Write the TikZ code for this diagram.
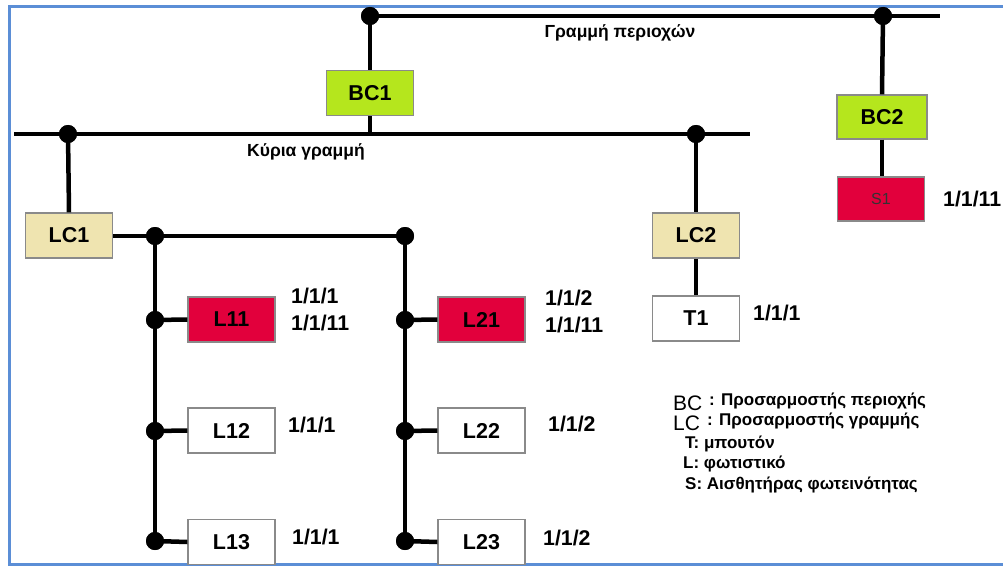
\documentclass[tikz,border=0pt]{standalone}
\usepackage{fontspec}
\setmainfont{Liberation Sans}
\definecolor{bcgreen}{HTML}{B5E61D}
\definecolor{lcbeige}{HTML}{EFE4B0}
\definecolor{lred}{HTML}{E2003C}
\definecolor{framebl}{HTML}{5B8ED6}
\definecolor{boxline}{HTML}{8A8A8A}
\begin{document}
\begin{tikzpicture}[x=1pt,y=-1pt,
  bus/.style={line width=4.5pt,black},
  dot/.style={circle,fill=black,inner sep=0pt,minimum size=18pt},
  dev/.style={draw=boxline,line width=1.2pt,minimum width=87pt,minimum height=45pt,inner sep=0pt,font=\fontsize{21.5}{24}\selectfont\bfseries},
  bcbox/.style={dev,fill=bcgreen},
  lcbox/.style={dev,fill=lcbeige},
  redbox/.style={dev,fill=lred},
  whitebox/.style={dev,fill=white},
  addr/.style={anchor=west,inner sep=0pt,font=\fontsize{21.3}{24}\selectfont\bfseries},
  buslabel/.style={inner sep=0pt,font=\fontsize{17.5}{20}\selectfont\bfseries},
  legbig/.style={anchor=west,inner sep=0pt,font=\fontsize{21}{24}\selectfont},
  legtxt/.style={anchor=west,inner sep=0pt,font=\fontsize{17}{20}\selectfont\bfseries}
]
\useasboundingbox (0,0) rectangle (1003,567);
% frame
\draw[framebl,line width=3pt] (1003,6.5) -- (9.5,6.5) -- (9.5,564.5) -- (1003,564.5);

% coordinates
\coordinate (tbR) at (940,16);
\coordinate (mbL) at (14,134);
\coordinate (mbR) at (750,134);
\coordinate (mbBC) at (370,134);

% devices
\node[bcbox] (BC1) at (370,93) {BC1};
\node[bcbox,minimum width=90pt,minimum height=44pt] (BC2) at (882,117) {BC2};
\node[redbox,minimum height=44pt,font=\fontsize{16}{18}\selectfont,text=black!80] (S1) at (881,199) {S1};
\node[lcbox] (LC1) at (69,235.5) {LC1};
\node[lcbox] (LC2) at (696,235.5) {LC2};
\node[whitebox] (T1) at (696,318.5) {T1};
\node[redbox] (L11) at (231.5,319.5) {L11};
\node[whitebox] (L12) at (231.5,430.5) {L12};
\node[whitebox] (L13) at (231.5,542) {L13};
\node[redbox] (L21) at (481.5,319.5) {L21};
\node[whitebox] (L22) at (481.5,430.5) {L22};
\node[whitebox] (L23) at (481.5,542) {L23};

% junction dots
\node[dot] (dA) at (370,16) {};
\node[dot] (dB) at (883,16) {};
\node[dot] (dC) at (68,134) {};
\node[dot] (dD) at (696,134) {};
\node[dot] (dE) at (155,236) {};
\node[dot] (dF) at (405,236) {};
\node[dot] (d11) at (155,320) {};
\node[dot] (d12) at (155,431) {};
\node[dot] (d13) at (155,541) {};
\node[dot] (d21) at (405,320) {};
\node[dot] (d22) at (405,431) {};
\node[dot] (d23) at (405,541) {};

% buses and connectors
\draw[bus] (dA.center) -- (tbR);
\draw[bus] (mbL) -- (mbR);
\draw[bus] (dA.center) -- (BC1.north);
\draw[bus] (BC1.south) -- (mbBC);
\draw[bus] (dB.center) -- (BC2.north);
\draw[bus] (BC2.south) -- (BC2.south |- S1.north);
\draw[bus] (dC.center) -- (LC1.north);
\draw[bus] (dD.center) -- (LC2.north);
\draw[bus] (LC2.south) -- (T1.north);
\draw[bus] (LC1.east |- dE) -- (dF.center);
\draw[bus] (dE.center) -- (d13.center);
\draw[bus] (dF.center) -- (d23.center);
\draw[bus] (d11.center) -- (L11.west);
\draw[bus] (d12.center) -- (L12.west);
\draw[bus] (d13.center) -- (L13.west);
\draw[bus] (d21.center) -- (L21.west);
\draw[bus] (d22.center) -- (L22.west);
\draw[bus] (d23.center) -- (L23.west);
% dots on top
\foreach \d in {dA,dB,dC,dD,dE,dF,d11,d12,d13,d21,d22,d23} \fill (\d) circle (9pt);

% bus labels
\node[buslabel] (lblArea) at (620,33) {Γραμμή περιοχών};
\node[buslabel] (lblMain) at (306,152) {Κύρια γραμμή};

% addresses
\node[addr] (a11a) at (291,296) {1/1/1};
\node[addr] (a11b) at (291,322.5) {1/1/11};
\node[addr] (a12) at (288,425) {1/1/1};
\node[addr] (a13) at (292,537) {1/1/1};
\node[addr] (a21a) at (545,298) {1/1/2};
\node[addr] (a21b) at (545,325) {1/1/11};
\node[addr] (a22) at (548,424) {1/1/2};
\node[addr] (a23) at (543,538) {1/1/2};
\node[addr] (aT1) at (753,313) {1/1/1};
\node[addr] (aS1) at (943,199) {1/1/11};

% legend
\node[legbig] (lgBC) at (673,403) {BC};
\node[legtxt] (lgBCt) at (709,401) {: Προσαρμοστής περιοχής};
\node[legbig] (lgLC) at (673,423) {LC};
\node[legtxt] (lgLCt) at (707,421.5) {: Προσαρμοστής γραμμής};
\node[legtxt] (lgT) at (685,443.5) {T: μπουτόν};
\node[legtxt] (lgL) at (683,464) {L: φωτιστικό};
\node[legtxt] (lgS) at (685,485) {S: Αισθητήρας φωτεινότητας};
\end{tikzpicture}
\end{document}
